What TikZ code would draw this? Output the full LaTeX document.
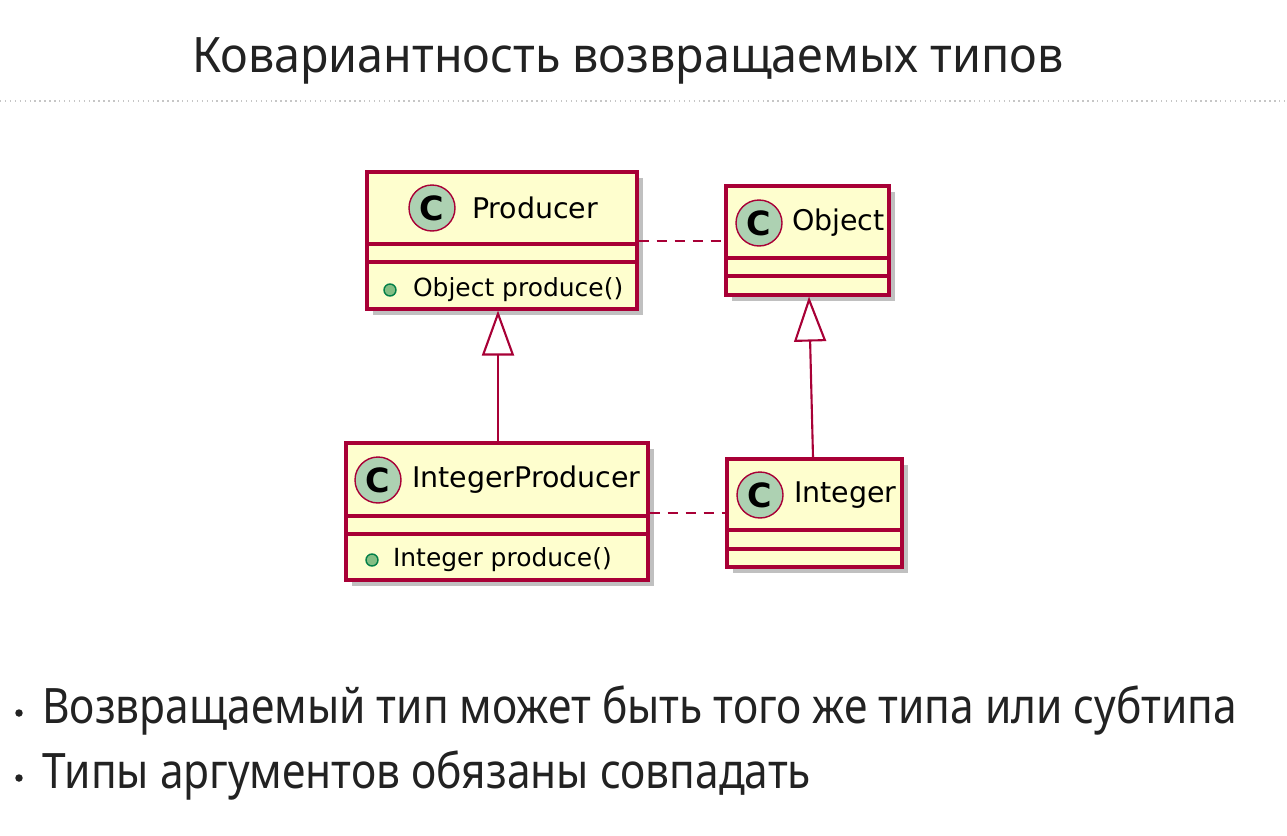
\documentclass[tikz,border=0pt]{standalone}
\usepackage{fontspec}
\setmainfont{DejaVu Sans}
\newfontfamily\slidefont[FakeStretch=0.87]{Noto Sans}
\newfontfamily\titlefont[FakeStretch=0.955]{Noto Sans}
\usepackage{xcolor}
\usepackage{tikz}
\usetikzlibrary{shapes, arrows.meta, positioning, calc, shadows}

\definecolor{umlborder}{HTML}{A80036}
\definecolor{umlfill}{HTML}{FEFECE}
\definecolor{umlbadge}{HTML}{ADD1B2}
\definecolor{umldotfill}{HTML}{84BE84}
\definecolor{umldotline}{HTML}{038048}
\definecolor{slidetext}{HTML}{222222}

\begin{document}
\begin{tikzpicture}[x=0.02cm, y=-0.02cm,
    classbox/.style={draw=umlborder, fill=umlfill, line width=1.8pt, inner sep=0pt,
      drop shadow={shadow xshift=0.12cm, shadow yshift=-0.12cm, opacity=0.45, fill=black!55}},
    badge/.style={circle, draw=umlborder, fill=umlbadge, line width=0.8pt, minimum size=0.92cm,
      inner sep=0pt, font=\fontsize{19}{19}\selectfont\bfseries},
    cname/.style={inner sep=0pt, anchor=west, font=\fontsize{16.2}{18}\selectfont},
    method/.style={inner sep=0pt, anchor=west, font=\fontsize{14.2}{16}\selectfont},
    pubdot/.style={circle, draw=umldotline, fill=umldotfill, line width=0.8pt, minimum size=0.24cm, inner sep=0pt},
    split/.style={umlborder, line width=1.8pt},
    depends/.style={umlborder, line width=1.2pt, dash pattern=on 0.2cm off 0.16cm},
    inherit/.style={umlborder, line width=1.2pt, -{Triangle[open, length=0.9cm, width=0.64cm]}},
    bullet/.style={inner sep=0pt, anchor=base west, text=slidetext, font=\slidefont\fontsize{27.8}{30}\selectfont},
    bulletdot/.style={circle, fill=slidetext, minimum size=0.15cm, inner sep=0pt}
  ]
    \useasboundingbox (0,0) rectangle (1287,835);

    % Title
    \node[inner sep=0pt, anchor=base, text=slidetext, font=\titlefont\fontsize{27.8}{30}\selectfont]
      (title) at (628,72) {Ковариантность возвращаемых типов};
    \draw[gray!45, dotted, line width=0.8pt] (0,101) -- (1287,101);

    % Classes
    \node[classbox, minimum width=5.4cm, minimum height=2.74cm] (producer) at (502,240.5) {};
    \node[classbox, minimum width=3.26cm, minimum height=2.18cm] (object) at (807.5,240.5) {};
    \node[classbox, minimum width=6.04cm, minimum height=2.74cm] (intproducer) at (497,511.5) {};
    \node[classbox, minimum width=3.5cm, minimum height=2.16cm] (integer) at (814.5,513) {};

    % Compartments
    \draw[split] (producer.west |- 0,244) -- (producer.east |- 0,244);
    \draw[split] (producer.west |- 0,262) -- (producer.east |- 0,262);
    \draw[split] (object.west |- 0,258) -- (object.east |- 0,258);
    \draw[split] (object.west |- 0,276) -- (object.east |- 0,276);
    \draw[split] (intproducer.west |- 0,516) -- (intproducer.east |- 0,516);
    \draw[split] (intproducer.west |- 0,534) -- (intproducer.east |- 0,534);
    \draw[split] (integer.west |- 0,530) -- (integer.east |- 0,530);
    \draw[split] (integer.west |- 0,549) -- (integer.east |- 0,549);

    % Headers
    \node[badge] (producerC) at (432,208) {C};
    \node[cname, right=0.32cm of producerC] (producerName) {Producer};
    \node[badge] (objectC) at (759,223) {C};
    \node[cname, right=0.18cm of objectC] (objectName) {Object};
    \node[badge] (intproducerC) at (378,480) {C};
    \node[cname, right=0.2cm of intproducerC] (intproducerName) {IntegerProducer};
    \node[badge] (integerC) at (760,495) {C};
    \node[cname, right=0.2cm of integerC] (integerName) {Integer};

    % Methods
    \node[pubdot] (producerDot) at (390,290) {};
    \node[method, right=0.32cm of producerDot] (producerMethod) {Object produce()};
    \node[pubdot] (intproducerDot) at (372,560) {};
    \node[method, right=0.28cm of intproducerDot] (intproducerMethod) {Integer produce()};

    % Relations
    \draw[depends] (producer.east |- 0,241) -- (object.west |- 0,241);
    \draw[depends] (intproducer.east |- 0,513) -- (integer.west |- 0,513);
    \draw[inherit] (intproducer.north -| 498,0) -- (producer.south -| 498,0);
    \draw[inherit] (integer.north -| 813,0) -- (object.south -| 809,0);

    % Bullets
    \node[bullet] (bulletA) at (42,723) {Возвращаемый тип может быть того же типа или субтипа};
    \node[bulletdot] (dotA) at (19,713) {};
    \node[bullet] (bulletB) at (42,788) {Типы аргументов обязаны совпадать};
    \node[bulletdot] (dotB) at (19,778) {};
  \end{tikzpicture}
\end{document}
